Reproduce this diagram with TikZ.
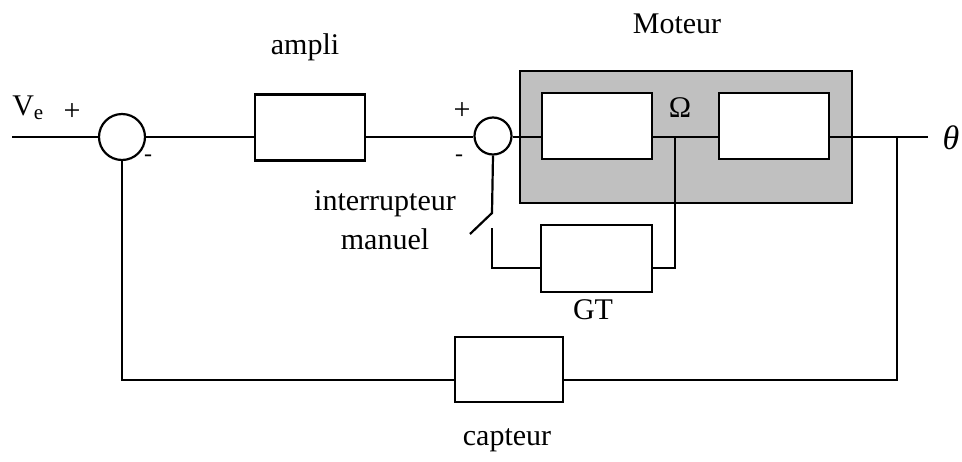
\documentclass[tikz,border=0pt]{standalone}
\usepackage{fontspec}
\setmainfont{Liberation Serif}
\definecolor{motgray}{HTML}{C0C0C0}
\begin{document}
\begin{tikzpicture}[x=1pt,y=-1pt, line width=2.2pt,
 blk/.style={draw, fill=white, minimum width=110pt, minimum height=66pt, inner sep=0pt},
 sumc/.style={draw, circle, fill=white, inner sep=0pt},
 lbl/.style={font=\fontsize{30}{39}\selectfont, inner sep=0pt},
 sgn/.style={font=\fontsize{24}{28}\selectfont, inner sep=0pt}]
\useasboundingbox (0,0) rectangle (962,461);
% blocks
\node[draw, fill=motgray, minimum width=332pt, minimum height=132pt, inner sep=0pt] (mot) at (686,137) {};
\node[blk] (amp) at (310,127.5) {};
\node[blk] (m1) at (597,126) {};
\node[blk] (m2) at (774,126) {};
\node[blk, minimum width=111pt, minimum height=67pt] (gt) at (596.5,258.5) {};
\node[blk, minimum width=108pt, minimum height=65pt] (cap) at (509,369.5) {};
\node[sumc, minimum size=46pt] (s1) at (122,137) {};
\node[sumc, minimum size=37pt] (s2) at (493,136) {};
% coordinates
\coordinate (in) at (12,137);
\coordinate (out) at (928,137);
\coordinate (br) at (897,137);
\coordinate (bl) at (897,380);
\coordinate (omega) at (675,137);
\coordinate (gtr) at (675,268);
\coordinate (sw1) at (492,213);
\coordinate (sw2) at (470,234);
\coordinate (sw3) at (492,228);
\coordinate (gtin) at (492,268);
% connectors
\draw (in) -- (s1);
\draw (s1) -- (s1 -| amp.west);
\draw (amp.east |- s1) -- (s1 -| s2.west);
\draw (s2.east |- s1) -- (s1 -| m1.west);
\draw (m1.east |- s1) -- (m2.west |- s1);
\draw (m2.east |- s1) -- (out);
\draw (omega) -- (gtr) -- (gtr -| gt.east);
\draw (s2.south) -- (sw1) -- (sw2);
\draw (sw3) -- (gtin) -- (gtin -| gt.west);
\draw (br) -- (bl) -- (bl -| cap.east);
\draw (bl -| cap.west) -- (bl -| s1) -- (s1);
% labels
\node[lbl] at (305,47) {ampli};
\node[lbl] at (677,24) {Moteur};
\node[lbl] at (593,310) {GT};
\node[lbl] at (507,440) {capteur};
\node[lbl, align=center] at (385,220) {interrupteur\\manuel};
\node[lbl] at (680,108) {Ω};
\node[lbl] at (28,108) {V\textsubscript{e}};
\node[lbl] at (72,112) {+};
\node[lbl] at (462,111) {+};
\node[sgn] at (148,158) {-};
\node[sgn] at (459,158) {-};
\node[font=\itshape\fontsize{34}{34}\selectfont, inner sep=0pt] at (951,138) {θ};
\end{tikzpicture}
\end{document}
